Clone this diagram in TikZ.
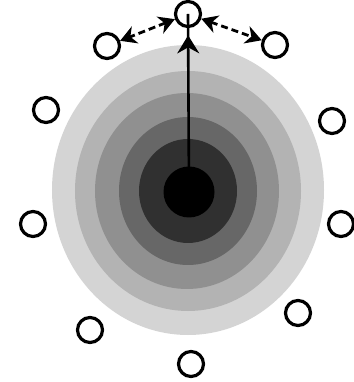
\documentclass[tikz,border=0pt]{standalone}
\usepackage{tikz}
\usetikzlibrary{arrows.meta, decorations.markings}
\definecolor{zonea}{HTML}{D4D4D4}
\definecolor{zoneb}{HTML}{B3B3B3}
\definecolor{zonec}{HTML}{909090}
\definecolor{zoned}{HTML}{676767}
\definecolor{zonee}{HTML}{303030}

\begin{document}
\begin{tikzpicture}[
    x=1pt, y=1pt,
    agent/.style={circle, draw=black, fill=white, line width=3.2pt, minimum size=25pt, inner sep=0pt},
    core/.style={circle, fill=black, minimum size=51pt, inner sep=0pt},
    link/.style={{Stealth[length=16pt,width=18pt,inset=5pt]}-{Stealth[length=16pt,width=18pt,inset=5pt]}, line width=2.8pt, dash pattern=on 7pt off 4pt},
    trail/.style={line width=2.6pt, postaction={decorate},
        decoration={markings, mark=at position 0.88 with {\arrow{Stealth[length=18pt,width=22pt,inset=6pt]}}}}
]
\useasboundingbox (-188,-191) rectangle (165,191);
% graded zones
\fill[zonea] (0,1) ellipse [x radius=136, y radius=145];
\fill[zoneb] (0,0) ellipse [x radius=113, y radius=120];
\fill[zonec] (-1,0) ellipse [x radius=92, y radius=98];
\fill[zoned] (0,0) ellipse [x radius=69, y radius=74];
\fill[zonee] (0,0) ellipse [x radius=49, y radius=52];
\node[core] (core) at (1,-1) {};
% surrounding agents
\node[agent] (top) at (0,177) {};
\node[agent] (ul) at (-81,145) {};
\node[agent] (ur) at (87,146) {};
\node[agent] (la) at (-142,81) {};
\node[agent] (ra) at (144,70) {};
\node[agent] (lm) at (-155,-33) {};
\node[agent] (rm) at (153,-33) {};
\node[agent] (bl) at (-98,-139) {};
\node[agent] (br) at (110,-122) {};
\node[agent] (bm) at (3,-173) {};
% moves
\draw[trail] (core.center) -- (top.center);
\draw[link] (top) -- (ul);
\draw[link] (top) -- (ur);
\end{tikzpicture}
\end{document}
